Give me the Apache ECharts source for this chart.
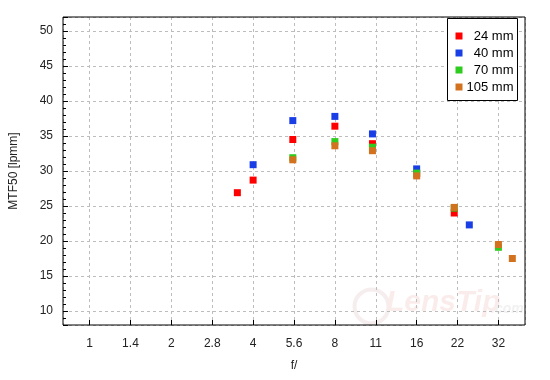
<!DOCTYPE html>
<html>
<head>
<meta charset="utf-8">
<script src="https://cdn.jsdelivr.net/npm/echarts@6/dist/echarts.min.js"></script>
<style>html,body{margin:0;padding:0;background:#fff}#c{width:550px;height:380px}</style>
</head>
<body>
<div id="c"></div>
<script>
// f-numbers on the x axis (tick labels, one per full stop)
var xTickLabels = ['1', '1.4', '2', '2.8', '4', '5.6', '8', '11', '16', '22', '32'];
var seriesNames = ['24 mm', '40 mm', '70 mm', '105 mm'];
// apertures and MTF50 values per focal length
var f24 = [3.5, 4, 5.6, 8, 11, 16, 22];
var v24 = [26.9, 28.7, 34.5, 36.4, 33.9, 29.6, 24.0];
var f40 = [4, 5.6, 8, 11, 16, 25];
var v40 = [30.9, 37.2, 37.8, 35.3, 30.3, 22.3];
var f70 = [5.6, 8, 11, 16, 22, 32];
var v70 = [31.9, 34.2, 33.4, 29.7, 24.7, 19.1];
var f105 = [5.6, 8, 11, 16, 22, 32, 36];
var v105 = [31.6, 33.6, 32.9, 29.3, 24.8, 19.5, 17.5];

var colors = ['#ff0000', '#1a3ee6', '#2ecc1e', '#d2721e'];
var FONT = 'Liberation Sans, Arial, sans-serif';

// x axis is in "stops": 2*log2(f)
function stops(f) { return 2 * Math.log(f) / Math.LN2; }
function pairs(fs, vs) { return fs.map(function (f, i) { return [stops(f), vs[i]]; }); }
var allF = [f24, f40, f70, f105];
var allV = [v24, v40, v70, v105];

var chart = echarts.init(document.getElementById('c'), null, { renderer: 'canvas' });
chart.setOption({
  animation: false,
  backgroundColor: '#fff',
  textStyle: { fontFamily: FONT },
  grid: { left: 61, right: 25, top: 17, bottom: 55, show: true, borderColor: '#000', borderWidth: 1, backgroundColor: 'transparent', z: 3 },
  graphic: [
    { type: 'circle', left: 352, top: 287, shape: { r: 17 }, style: { fill: 'none', stroke: '#f6eeee', lineWidth: 4 }, z: -5 },
    { type: 'text', left: 386, top: 288, style: { text: 'LensTip', font: 'italic bold 30px ' + FONT, fill: '#fbecec' }, z: -5 },
    { type: 'text', left: 491, top: 302, style: { text: '.com', font: 'italic bold 14px ' + FONT, fill: '#f1f1f1' }, z: -5 }
  ],
  legend: {
    orient: 'vertical',
    right: 32.5,
    top: 18.5,
    padding: [11, 4, 7, 8],
    itemGap: 4,
    itemWidth: 7,
    itemHeight: 7,
    icon: 'rect',
    borderColor: '#000',
    borderWidth: 1,
    backgroundColor: '#fff',
    z: 10,
    data: seriesNames,
    formatter: function (n) { return '{a|' + n + '}'; },
    textStyle: {
      fontFamily: FONT, fontSize: 13, color: '#000',
      rich: { a: { width: 46, align: 'right', fontSize: 13, lineHeight: 14, fontFamily: FONT, color: '#000' } }
    }
  },
  xAxis: {
    type: 'value',
    min: -0.65,
    max: 10.65,
    splitNumber: 11,
    name: 'f/',
    nameLocation: 'middle',
    nameGap: 35,
    nameTextStyle: { fontFamily: FONT, fontSize: 12, color: '#222' },
    axisLine: { show: false, onZero: false },
    axisTick: { inside: true, length: 5, lineStyle: { color: '#000' } },
    axisLabel: {
      margin: 13, fontFamily: FONT, fontSize: 12, color: '#222',
      showMinLabel: false, showMaxLabel: false,
      formatter: function (v) {
        var k = Math.round(v);
        if (Math.abs(v - k) > 1e-6 || k < 0 || k >= xTickLabels.length) return '';
        return xTickLabels[k];
      }
    },
    splitLine: { show: true, lineStyle: { color: '#bdbdbd', type: [3, 3], width: 1 } }
  },
  yAxis: {
    type: 'value',
    min: 8,
    max: 52,
    splitNumber: 9,
    name: 'MTF50 [lpmm]',
    nameLocation: 'middle',
    nameGap: 43,
    nameTextStyle: { fontFamily: FONT, fontSize: 12, color: '#222' },
    axisLine: { show: false, onZero: false },
    axisTick: { inside: true, length: 5, lineStyle: { color: '#000' } },
    minorTick: { show: true, splitNumber: 5, length: 3, lineStyle: { color: '#000' } },
    axisLabel: { margin: 10, fontFamily: FONT, fontSize: 12, color: '#222', showMinLabel: false, showMaxLabel: false },
    splitLine: { show: true, lineStyle: { color: '#bdbdbd', type: [3, 3], width: 1 } }
  },
  series: seriesNames.map(function (n, i) {
    return {
      name: n,
      type: 'scatter',
      symbol: 'rect',
      symbolSize: 7,
      itemStyle: { color: colors[i], opacity: 1 },
      z: 2 + i,
      data: pairs(allF[i], allV[i])
    };
  })
});
</script>
</body>
</html>
